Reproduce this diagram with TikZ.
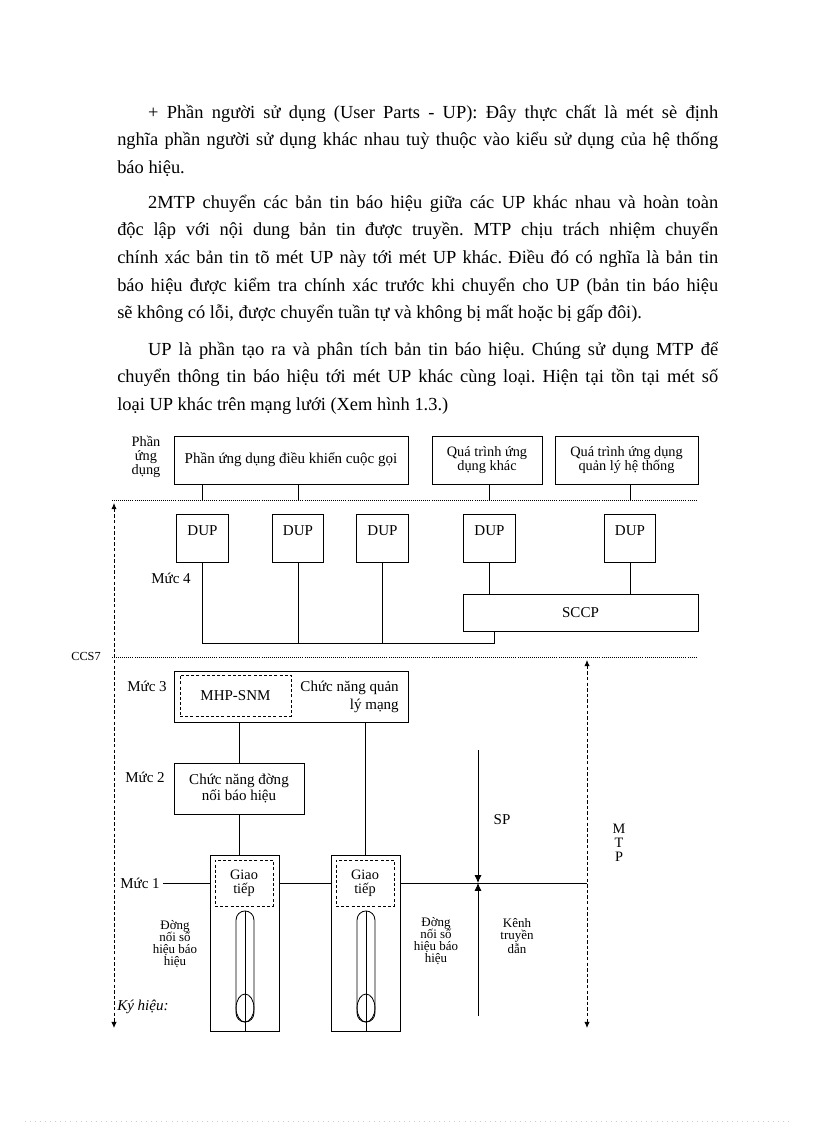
\documentclass[tikz,border=0pt]{standalone}
\usepackage{fontspec}
\setmainfont{Liberation Serif}
\usetikzlibrary{arrows.meta,shapes.geometric,calc}
\tikzset{
    block/.style = {draw, rectangle, line width=0.6pt, inner sep=1pt,
        font=\fontsize{11}{12}\selectfont},
    dupbox/.style = {block, minimum width=13.2mm,
        text height=5.6mm, text depth=6.8mm, inner ysep=0pt},
    dbox/.style = {draw, rectangle, line width=0.6pt, dash pattern=on 2.2pt off 1.6pt,
        inner sep=0pt},
    lbl/.style = {font=\fontsize{11}{12}\selectfont, inner sep=0pt},
    small/.style = {font=\fontsize{9.5}{9}\selectfont, align=center, inner sep=0pt},
    para/.style = {anchor=base west, inner sep=0pt, text width=154.7mm, align=justify,
        font=\fontsize{13.5}{20.3}\selectfont\frenchspacing},
    wire/.style = {draw, line width=0.6pt},
    sep/.style = {draw, line width=0.5pt, densely dotted},
    dasharrow/.style = {draw, line width=0.6pt, dash pattern=on 2.5pt off 1.6pt,
        {Latex[length=1.6mm,width=1.4mm]}-{Latex[length=1.6mm,width=1.4mm]}},
    arrow/.style = {draw, line width=0.6pt, -{Latex[length=2mm,width=1.8mm]}}
}
\begin{document}
\begin{tikzpicture}[x=0.2574mm, y=-0.2574mm]
                \useasboundingbox (0,0) rectangle (816,1123);
                \node[para] (p1) at (117,118) {\hspace*{22.6pt}+ Phần người sử dụng (User Parts - UP): Đây thực chất là mét sè định\linebreak nghĩa phần người sử dụng khác nhau tuỳ thuộc vào kiểu sử dụng của hệ thống\linebreak báo hiệu.};
                \node[para] (p2) at (117,208) {\hspace*{22.6pt}2MTP chuyển các bản tin báo hiệu giữa các UP khác nhau và hoàn toàn\linebreak độc lập với nội dung bản tin được truyền. MTP chịu trách nhiệm chuyển\linebreak chính xác bản tin tõ mét UP này tới mét UP khác. Điều đó có nghĩa là bản tin\linebreak báo hiệu được kiểm tra chính xác trước khi chuyển cho UP (bản tin báo hiệu\linebreak sẽ không có lỗi, được chuyển tuần tự và không bị mất hoặc bị gấp đôi).};
                \node[para] (p3) at (117,355) {\hspace*{22.6pt}UP là phần tạo ra và phân tích bản tin báo hiệu. Chúng sử dụng MTP để\linebreak chuyển thông tin báo hiệu tới mét UP khác cùng loại. Hiện tại tồn tại mét số\linebreak loại UP khác trên mạng lưới (Xem hình 1.3.)};

                \node[block, minimum width=60.2mm, minimum height=12.4mm] (app1) at (291,460) {Phần ứng dụng điều khiển cuộc gọi};
                \node[block, minimum width=28.3mm, minimum height=12.4mm, align=center, font=\fontsize{10.5}{10.2}\selectfont] (app2) at (487,460) {Quá trình ứng\\dụng khác};
                \node[block, minimum width=36.8mm, minimum height=12.4mm, align=center, font=\fontsize{10.5}{10.2}\selectfont] (app3) at (626.5,460) {Quá trình ứng dụng\\quản lý hệ thống};
                \node[small, font=\fontsize{10.5}{10.2}\selectfont] (apptxt) at (146,457) {Phần\\ứng\\dụng};

                \coordinate (d1w) at (112,500);
                \coordinate (d1e) at (697,500);
                \coordinate (d2w) at (112,657);
                \coordinate (d2e) at (697,657);
                \draw[sep] (d1w) -- (d1e);
                \draw[sep] (d2w) -- (d2e);
                \node[lbl, anchor=east, font=\fontsize{9}{10}\selectfont] (ccs) at (101,656) {CCS7};

                \node[dupbox] (dup1) at (202.5,538) {DUP};
                \node[dupbox] (dup2) at (298,538) {DUP};
                \node[dupbox] (dup3) at (382.5,538) {DUP};
                \node[dupbox] (dup4) at (489.5,538) {DUP};
                \node[dupbox] (dup5) at (630,538) {DUP};
                \node[block, minimum width=60.5mm, minimum height=9.5mm] (sccp) at (580.5,612.5) {SCCP};
                \node[lbl] (m4) at (171,578) {Mức 4};

                \draw[wire] (app1.south -| dup1) -- (dup1 |- d1w);
                \draw[wire] (app1.south -| dup2) -- (dup2 |- d1w);
                \draw[wire] (app2.south -| dup4) -- (dup4 |- d1w);
                \draw[wire] (app3.south -| dup5) -- (dup5 |- d1w);

                \coordinate (bus) at (494,643);
                \draw[wire] (dup1.south) -- (dup1.south |- bus) -- (bus) -- (bus |- sccp.south);
                \draw[wire] (dup2.south) -- (dup2.south |- bus);
                \draw[wire] (dup3.south) -- (dup3.south |- bus);
                \draw[wire] (dup4.south) -- (dup4.south |- sccp.north);
                \draw[wire] (dup5.south) -- (dup5.south |- sccp.north);

                \node[block, minimum width=60.2mm, minimum height=13.1mm] (mgmt) at (291,696.5) {};
                \node[dbox, minimum width=28.6mm, minimum height=10.6mm, lbl] (mhp) at (235.5,695.5) {MHP-SNM};
                \node[lbl, align=right, anchor=east, font=\fontsize{11}{13}\selectfont] (mgmttxt) at (399,697) {Chức năng quản\\lý mạng};
                \node[lbl] (m3) at (147,686) {Mức 3};

                \node[block, minimum width=33.5mm, minimum height=13.1mm, align=center, font=\fontsize{11}{11.5}\selectfont] (link) at (239,788.5) {Chức năng đờng\\nối báo hiệu};
                \node[lbl] (m2) at (145,777) {Mức 2};

                \node[block, minimum width=17.8mm, minimum height=45.3mm] (term1) at (244.5,943) {};
                \node[block, minimum width=17.8mm, minimum height=45.3mm] (term2) at (365.5,943) {};
                \node[dbox, minimum width=14.9mm, minimum height=11.8mm, align=center, font=\fontsize{10.5}{10.2}\selectfont] (gt1) at (244,883) {Giao\\tiếp};
                \node[dbox, minimum width=14.9mm, minimum height=11.8mm, align=center, font=\fontsize{10.5}{10.2}\selectfont] (gt2) at (365,883) {Giao\\tiếp};
                \node[draw, line width=0.6pt, rounded corners=2.3mm, minimum width=4.6mm, minimum height=28.6mm, inner sep=0pt] (tube1) at (245,966.5) {};
                \node[draw, line width=0.6pt, rounded corners=2.3mm, minimum width=4.6mm, minimum height=28.6mm, inner sep=0pt] (tube2) at (366,966.5) {};
                \node[draw, ellipse, line width=0.6pt, minimum width=4.6mm, minimum height=7.2mm, inner sep=0pt] (bulb1) at (245,1008) {};
                \node[draw, ellipse, line width=0.6pt, minimum width=4.6mm, minimum height=7.2mm, inner sep=0pt] (bulb2) at (366,1008) {};
                \draw[wire] (tube1.north) -- (tube1.north |- term1.south);
                \draw[wire] (tube2.north) -- (tube2.north |- term2.south);

                \draw[wire] (mgmt.south -| link) -- (link.north);
                \draw[wire] (link.south) -- (link.south |- term1.north);
                \draw[wire] (mgmt.south -| term2) -- (term2.north);

                \node[lbl] (m1) at (140,883) {Mức 1};
                \coordinate (spmid) at (478,883);
                \coordinate (mtpmid) at (587,883);
                \draw[wire] (m1.east) ++(3,0) -- (term1.west |- gt1);
                \draw[wire] (term1.east |- gt1) -- (term2.west |- gt2);
                \draw[wire] (term2.east |- gt2) -- (mtpmid);

                \coordinate (sptop) at (478,750);
                \coordinate (spbot) at (478,1016);
                \draw[arrow] (sptop) -- (spmid);
                \draw[arrow] (spbot) -- (spmid);
                \node[lbl] (sp) at (502,820) {SP};

                \coordinate (ccstop) at (114,503);
                \coordinate (ccsbot) at (114,1028);
                \coordinate (mtptop) at (587,660);
                \coordinate (mtpbot) at (587,1028);
                \draw[dasharrow] (ccstop) -- (ccsbot);
                \draw[dasharrow] (mtptop) -- (mtpbot);
                \node[small, font=\fontsize{10.5}{10.2}\selectfont] (mtp) at (619,843) {M\\T\\P};

                \node[small] (sl1) at (175,944) {Đờng\\nối số\\hiệu báo\\hiệu};
                \node[small] (sl2) at (436,941) {Đờng\\nối số\\hiệu báo\\hiệu};
                \node[small] (tx) at (517,936) {Kênh\\truyền\\dẫn};
                \node[lbl, anchor=west, font=\itshape\fontsize{11}{12}\selectfont] (kyhieu) at (117,1007) {Ký hiệu:};

                \coordinate (pgw) at (25,1121);
                \coordinate (pge) at (792,1121);
                \draw[gray!40, line width=0.5pt, dash pattern=on 0.5pt off 3.2pt] (pgw) -- (pge);
\end{tikzpicture}
\end{document}
